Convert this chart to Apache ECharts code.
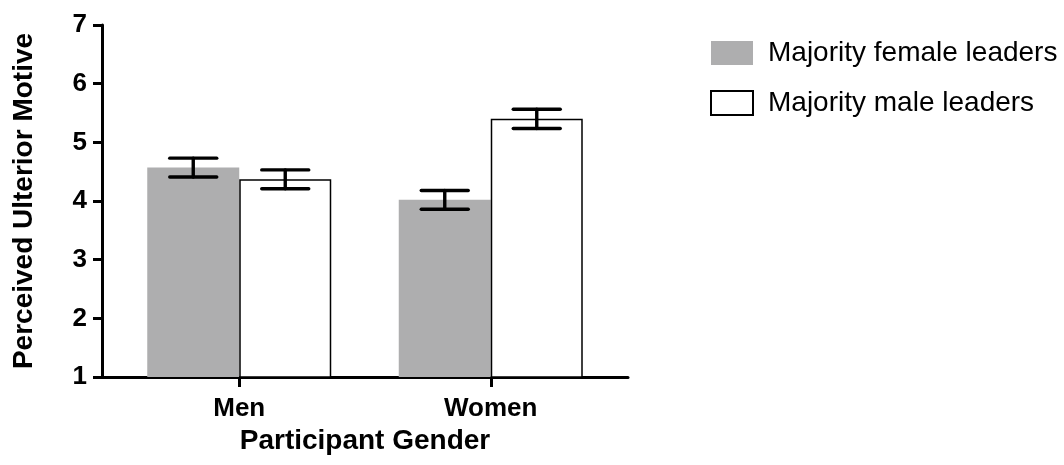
<!DOCTYPE html>
<html>
<head>
<meta charset="utf-8">
<script src="https://cdn.jsdelivr.net/npm/echarts@6/dist/echarts.min.js"></script>
<style>
  html, body { margin: 0; padding: 0; background: #fff; }
  #chart { width: 1064px; height: 465px; }
</style>
</head>
<body>
<div id="chart"></div>
<script>
// Participant gender groups on the x axis
const categories = ['Men', 'Women'];
// Mean perceived ulterior motive per group
const femaleLeaders = [4.57, 4.02];
const maleLeaders = [4.37, 5.40];
// Standard errors drawn as error bars
const femaleErr = [0.16, 0.16];
const maleErr = [0.16, 0.165];
const seriesNames = ['Majority female leaders', 'Majority male leaders'];
const yTicks = [1, 2, 3, 4, 5, 6, 7];

const FONT = '"Liberation Sans", Arial, Helvetica, sans-serif';
const BAR_W = 92;
const CAP_W = 47;

const chart = echarts.init(document.getElementById('chart'));

function errorSeries(means, errs, side) {
  return {
    type: 'custom',
    silent: true,
    z: 5,
    data: means.map((m, i) => [i, m, errs[i]]),
    encode: { x: 0, y: 1 },
    renderItem: function (params, api) {
      const x = api.value(0), m = api.value(1), e = api.value(2);
      const off = side * BAR_W / 2;
      const hi = api.coord([x, m + e]);
      const lo = api.coord([x, m - e]);
      const cx = hi[0] + off;
      const style = { stroke: '#000', lineWidth: 3.4, lineCap: 'round' };
      return {
        type: 'group',
        children: [
          { type: 'line', shape: { x1: cx, y1: hi[1], x2: cx, y2: lo[1] }, style },
          { type: 'line', shape: { x1: cx - CAP_W / 2, y1: hi[1], x2: cx + CAP_W / 2, y2: hi[1] }, style },
          { type: 'line', shape: { x1: cx - CAP_W / 2, y1: lo[1], x2: cx + CAP_W / 2, y2: lo[1] }, style }
        ]
      };
    }
  };
}

chart.setOption({
  animation: false,
  backgroundColor: '#fff',
  textStyle: { fontFamily: FONT, color: '#000' },
  grid: { left: 102, right: 436, top: 25, bottom: 88 },
  legend: {
    orient: 'vertical',
    left: 705,
    top: 34,
    icon: 'rect',
    itemWidth: 42,
    itemHeight: 24,
    itemGap: 22,
    textStyle: { fontFamily: FONT, fontSize: 28, color: '#000', padding: [0, 0, 0, 10] },
    data: seriesNames
  },
  xAxis: {
    type: 'value',
    min: -0.5457,
    max: 1.5457,
    name: 'Participant Gender',
    nameLocation: 'middle',
    nameGap: 50,
    nameTextStyle: { fontFamily: FONT, fontSize: 28, fontWeight: 'bold', color: '#000' },
    axisLine: { show: true, onZero: false, lineStyle: { color: '#000', width: 3 } },
    axisTick: { show: true, customValues: [0, 1], length: 10, lineStyle: { color: '#000', width: 3 } },
    axisLabel: {
      customValues: [0, 1],
      margin: 19,
      fontFamily: FONT, fontSize: 26, fontWeight: 'bold', color: '#000',
      formatter: v => categories[Math.round(v)]
    },
    splitLine: { show: false }
  },
  yAxis: {
    type: 'value',
    min: yTicks[0],
    max: yTicks[yTicks.length - 1],
    interval: 1,
    name: 'Perceived Ulterior Motive',
    nameLocation: 'middle',
    nameGap: 64,
    nameTextStyle: { fontFamily: FONT, fontSize: 28, fontWeight: 'bold', color: '#000' },
    axisLine: { show: true, onZero: false, lineStyle: { color: '#000', width: 3 } },
    axisTick: { show: true, length: 9, lineStyle: { color: '#000', width: 3 } },
    axisLabel: { margin: 15, fontFamily: FONT, fontSize: 26, fontWeight: 'bold', color: '#000' },
    splitLine: { show: false }
  },
  series: [
    {
      name: seriesNames[0],
      type: 'bar',
      barWidth: BAR_W,
      barGap: '0%',
      data: femaleLeaders.map((v, i) => [i, v]),
      itemStyle: { color: '#aeaeaf' }
    },
    {
      name: seriesNames[1],
      type: 'bar',
      barWidth: BAR_W,
      barGap: '0%',
      data: maleLeaders.map((v, i) => [i, v]),
      itemStyle: { color: '#fff', borderColor: '#000', borderWidth: 1.5 }
    },
    errorSeries(femaleLeaders, femaleErr, -1),
    errorSeries(maleLeaders, maleErr, 1)
  ]
});
</script>
</body>
</html>
